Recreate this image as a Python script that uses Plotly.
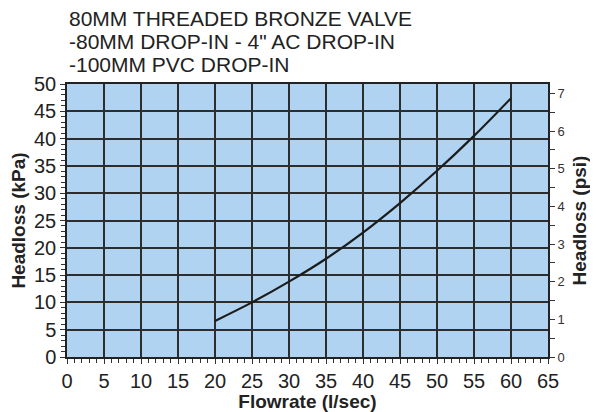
import plotly.graph_objects as go

# ---- data ----
flow_lps = [20, 25, 30, 35, 40, 45, 50, 55, 60]
headloss_kpa = [6.6, 10.0, 13.8, 18.0, 22.8, 28.2, 34.1, 40.5, 47.4]
x_ticks = list(range(0, 70, 5))
kpa_ticks = list(range(0, 55, 5))
psi_ticks = list(range(0, 8))
title_lines = ["80MM THREADED BRONZE VALVE",
               "-80MM DROP-IN - 4\" AC DROP-IN",
               "-100MM PVC DROP-IN"]
KPA_PER_PSI = 6.894757
headloss_psi = [h / KPA_PER_PSI for h in headloss_kpa]

# page body has an 8px margin, so the figure is drawn 8px in from the window corner
W, H = 590, 404
ML, MR, MT, MB = 59, 50, 76, 55
PH = H - MT - MB

FONT = "Liberation Sans, Arial, Helvetica, sans-serif"
GRID = "#2d2d2d"
BG = "#afd3f0"

fig = go.Figure()
fig.add_trace(go.Scatter(x=flow_lps, y=headloss_kpa, mode="lines",
                         line=dict(color="#1c1c1c", width=2.2, shape="spline"),
                         showlegend=False, hoverinfo="skip"))
fig.add_trace(go.Scatter(x=flow_lps, y=headloss_psi, mode="lines", yaxis="y2",
                         line=dict(color="rgba(0,0,0,0)", width=0),
                         showlegend=False, hoverinfo="skip"))

def py(px):
    return (H - MB - px) / PH

annots = []
for line, cy in zip(title_lines, [11, 33.5, 56]):
    annots.append(dict(text=line, xref="paper", yref="paper", x=0, y=py(cy),
                       xanchor="left", yanchor="middle", showarrow=False,
                       font=dict(family=FONT, size=21, color="#222")))

fig.update_layout(
    width=W, height=H,
    margin=dict(l=ML, r=MR, t=MT, b=MB, autoexpand=False),
    paper_bgcolor="white", plot_bgcolor=BG,
    font=dict(family=FONT, color="#222"),
    annotations=annots,
    xaxis=dict(range=[0, 65], tickvals=x_ticks, showgrid=True, gridcolor=GRID,
               gridwidth=1.5, zeroline=False, showline=True, linecolor="#222",
               linewidth=1.5, mirror=True, ticks="outside", ticklen=5,
               tickcolor="#333", tickwidth=1,
               minor=dict(dtick=1, ticks="outside", ticklen=4, tickcolor="#333",
                          showgrid=False),
               tickfont=dict(size=20, color="#222"),
               title=dict(text="<b>Flowrate (l/sec)</b>", font=dict(size=19, color="#222"),
                          standoff=6)),
    yaxis=dict(range=[0, 50], tickvals=kpa_ticks, showgrid=True, gridcolor=GRID,
               gridwidth=1.5, zeroline=False, showline=True, linecolor="#222",
               linewidth=1.5, mirror=True, ticks="outside", ticklen=5,
               tickcolor="#333", tickwidth=1,
               minor=dict(dtick=1, ticks="outside", ticklen=4, tickcolor="#333",
                          showgrid=False),
               tickfont=dict(size=20, color="#222"),
               title=dict(text="<b>Headloss (kPa)</b>", font=dict(size=19, color="#222"),
                          standoff=8)),
    yaxis2=dict(range=[0, 50 / KPA_PER_PSI], tickvals=psi_ticks, overlaying="y",
                side="right", showgrid=False, zeroline=False, showline=False,
                ticks="outside", ticklen=6, tickcolor="#333", tickwidth=1,
                minor=dict(dtick=0.5, ticks="outside", ticklen=6, tickcolor="#333",
                           showgrid=False),
                tickfont=dict(size=13, color="#333"),
                title=dict(text="<b>Headloss (psi)</b>", font=dict(size=19, color="#222"),
                           standoff=8)),
)

fig.write_html("out.html")
